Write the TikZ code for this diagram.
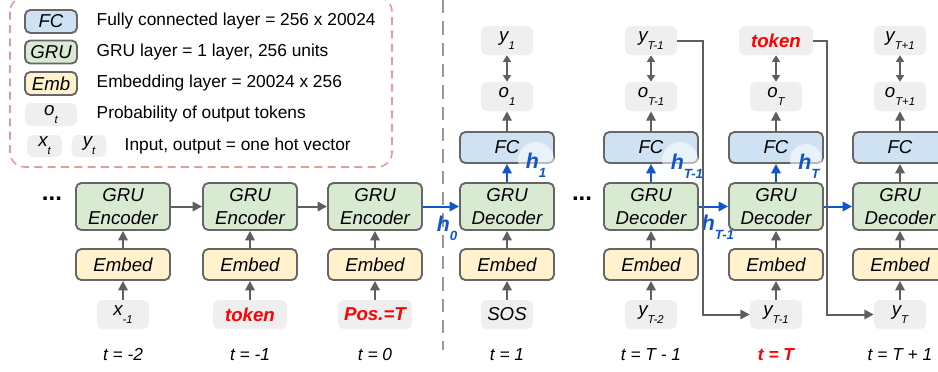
\documentclass[tikz,border=0pt]{standalone}
\usepackage{fontspec}
\setmainfont{Liberation Sans}
\usetikzlibrary{arrows.meta}

\definecolor{fcblue}{HTML}{CFE2F3}
\definecolor{grugreen}{HTML}{D9EAD3}
\definecolor{embyellow}{HTML}{FFF2CC}
\definecolor{vecgray}{HTML}{EFEFEF}
\definecolor{boxline}{HTML}{666666}
\definecolor{arrgray}{HTML}{5F5F5F}
\definecolor{hblue}{HTML}{1155CC}
\definecolor{tokred}{HTML}{FF0000}
\definecolor{legendred}{HTML}{EA9999}

\newcommand{\lowsub}[1]{\raisebox{-0.8ex}{\fontsize{8.5}{8.5}\selectfont #1}}
\newcommand{\hstate}[1]{\textbf{\textit{h\raisebox{-0.8ex}{\fontsize{10}{10}\selectfont #1}}}}

\tikzset{
  layer/.style={draw=boxline, line width=1.4pt, rounded corners=4pt, inner sep=0pt,
    align=center, font=\fontsize{14}{17}\selectfont\itshape},
  gru/.style={layer, fill=grugreen, minimum width=70.5pt, minimum height=35.25pt},
  emb/.style={layer, fill=embyellow, minimum width=70.5pt, minimum height=23.25pt},
  fc/.style={layer, fill=fcblue, minimum width=70.5pt, minimum height=23.25pt},
  vec/.style={fill=vecgray, rounded corners=4pt, inner sep=0pt, minimum width=39pt,
    minimum height=21.75pt, font=\fontsize{14}{17}\selectfont\itshape},
  wide/.style={minimum width=55.5pt},
  redtok/.style={text=tokred, font=\fontsize{14}{17}\selectfont\bfseries\itshape},
  tlabel/.style={font=\fontsize{13}{15}\selectfont\itshape},
  legtext/.style={anchor=west, font=\fontsize{13}{15}\selectfont},
  hlabel/.style={text=hblue, font=\fontsize{16}{18}\selectfont},
  glow/.style={fill=white, opacity=0.55},
  arr/.style={draw=arrgray, line width=1.5pt, -{Triangle[length=7pt,width=7pt]}},
  darr/.style={draw=arrgray, line width=1.5pt,
    {Triangle[length=5pt,width=6pt]}-{Triangle[length=5pt,width=6pt]}},
  barr/.style={draw=hblue, line width=1.5pt, -{Triangle[length=7pt,width=7pt]}},
  dots/.style={font=\fontsize{18}{18}\selectfont\bfseries}
}

\begin{document}
\begin{tikzpicture}[x=0.75pt, y=-0.75pt]
  \useasboundingbox (0,0) rectangle (938,371);

  % Legend
  \draw[legendred, line width=1.2pt, dash pattern=on 6pt off 4pt, rounded corners=11pt]
    (10,-3) rectangle (392,167);
  \node[fc, minimum width=39pt, minimum height=17.25pt] (legfc) at (51,21.5) {FC};
  \node[gru, minimum width=39pt, minimum height=17.25pt] (leggru) at (51,52) {GRU};
  \node[emb, minimum width=39pt, minimum height=17.25pt] (legemb) at (51,83.5) {Emb};
  \node[vec, minimum height=17.25pt] (lego) at (51,114.5) {o\lowsub{t}};
  \node[vec, minimum width=26pt, minimum height=16.5pt] (legx) at (44.5,146) {x\lowsub{t}};
  \node[vec, minimum width=26pt, minimum height=16.5pt] (legy) at (89,146) {y\lowsub{t}};
  \node[legtext] (legfctxt) at (92,21.5) {Fully connected layer = 256 x 20024};
  \node[legtext] (leggrutxt) at (92,52) {GRU layer = 1 layer, 256 units};
  \node[legtext] (legembtxt) at (92,83.5) {Embedding layer = 20024 x 256};
  \node[legtext] (legotxt) at (92,114.5) {Probability of output tokens};
  \node[legtext] (legxytxt) at (120,146) {Input, output = one hot vector};

  % Encoder / decoder split
  \draw[gray!80, line width=1.6pt, dash pattern=on 10pt off 6pt] (443,0) -- (443,350);

  % Encoder
  \node[dots] (encdots) at (52,199) {...};
  \node[gru] (enc1) at (123,206.5) {GRU\\Encoder};
  \node[gru] (enc2) at (250,206.5) {GRU\\Encoder};
  \node[gru] (enc3) at (375,206.5) {GRU\\Encoder};
  \node[emb] (encemb1) at (123,264.5) {Embed};
  \node[emb] (encemb2) at (250,264.5) {Embed};
  \node[emb] (encemb3) at (375,264.5) {Embed};
  \node[vec] (x1) at (123,314.5) {x\lowsub{-1}};
  \node[vec, wide, redtok] (x2) at (250,314.5) {token};
  \node[vec, wide, redtok] (x3) at (375,314.5) {Pos.=T};
  \node[tlabel] (t1) at (123,355) {t = -2};
  \node[tlabel] (t2) at (250,355) {t = -1};
  \node[tlabel] (t3) at (375,355) {t = 0};
  \draw[arr] (x1) -- (encemb1);
  \draw[arr] (x2) -- (encemb2);
  \draw[arr] (x3) -- (encemb3);
  \draw[arr] (encemb1) -- (enc1);
  \draw[arr] (encemb2) -- (enc2);
  \draw[arr] (encemb3) -- (enc3);
  \draw[arr] (enc1) -- (enc2);
  \draw[arr] (enc2) -- (enc3);

  % Decoder
  \node[dots] (decdots) at (582,199) {...};
  \node[gru] (dec1) at (507,206.5) {GRU\\Decoder};
  \node[gru] (dec2) at (651,206.5) {GRU\\Decoder};
  \node[gru] (dec3) at (776,206.5) {GRU\\Decoder};
  \node[gru] (dec4) at (900,206.5) {GRU\\Decoder};
  \node[emb] (decemb1) at (507,264.5) {Embed};
  \node[emb] (decemb2) at (651,264.5) {Embed};
  \node[emb] (decemb3) at (776,264.5) {Embed};
  \node[emb] (decemb4) at (900,264.5) {Embed};
  \node[fc] (fc1) at (507,147.5) {FC};
  \node[fc] (fc2) at (651,147.5) {FC};
  \node[fc] (fc3) at (776,147.5) {FC};
  \node[fc] (fc4) at (900,147.5) {FC};
  \node[vec] (o1) at (507,96.5) {o\lowsub{1}};
  \node[vec] (o2) at (651,96.5) {o\lowsub{T-1}};
  \node[vec] (o3) at (776,96.5) {o\lowsub{T}};
  \node[vec] (o4) at (900,96.5) {o\lowsub{T+1}};
  \node[vec] (y1) at (507,40.5) {y\lowsub{1}};
  \node[vec] (y2) at (651,40.5) {y\lowsub{T-1}};
  \node[vec, wide, redtok] (y3) at (776,40.5) {token};
  \node[vec] (y4) at (900,40.5) {y\lowsub{T+1}};
  \node[vec] (in1) at (507,314.5) {SOS};
  \node[vec] (in2) at (651,314.5) {y\lowsub{T-2}};
  \node[vec] (in3) at (776,314.5) {y\lowsub{T-1}};
  \node[vec] (in4) at (900,314.5) {y\lowsub{T}};
  \node[tlabel] (t4) at (507,355) {t = 1};
  \node[tlabel] (t5) at (651,355) {t = T - 1};
  \node[tlabel, text=tokred, font=\fontsize{13}{15}\selectfont\bfseries\itshape] (t6) at (776,355) {t = T};
  \node[tlabel] (t7) at (900,355) {t = T + 1};
  \draw[arr] (in1) -- (decemb1);
  \draw[arr] (in2) -- (decemb2);
  \draw[arr] (in3) -- (decemb3);
  \draw[arr] (in4) -- (decemb4);
  \draw[arr] (decemb1) -- (dec1);
  \draw[arr] (decemb2) -- (dec2);
  \draw[arr] (decemb3) -- (dec3);
  \draw[arr] (decemb4) -- (dec4);
  \draw[barr] (dec1) -- (fc1);
  \draw[barr] (dec2) -- (fc2);
  \draw[barr] (dec3) -- (fc3);
  \draw[arr] (dec4) -- (fc4);
  \draw[arr] (fc1) -- (o1);
  \draw[arr] (fc2) -- (o2);
  \draw[arr] (fc3) -- (o3);
  \draw[arr] (fc4) -- (o4);
  \draw[darr] (o1) -- (y1);
  \draw[darr] (o2) -- (y2);
  \draw[darr] (o3) -- (y3);
  \draw[darr] (o4) -- (y4);

  % Hidden states
  \draw[barr] (enc3) -- (dec1);
  \draw[barr] (dec2) -- (dec3);
  \draw[barr] (dec3) -- (dec4);
  \fill[glow] (536,160) circle (13.5pt);
  \fill[glow] (680,160) circle (13.5pt);
  \fill[glow] (806,160) circle (12pt);
  \node[hlabel] (h0) at (447,228) {\hstate{0}};
  \node[hlabel] (h1) at (536,165) {\hstate{1}};
  \node[hlabel] (hT1a) at (687,166) {\hstate{T-1}};
  \node[hlabel] (hT1b) at (718,227) {\hstate{T-1}};
  \node[hlabel] (hT) at (809,166) {\hstate{T}};

  % Fed back outputs
  \draw[arr] (y2.east) -- ++(26,0) |- (in3.west);
  \draw[arr] (y3.east) -- ++(14,0) |- (in4.west);
\end{tikzpicture}
\end{document}
